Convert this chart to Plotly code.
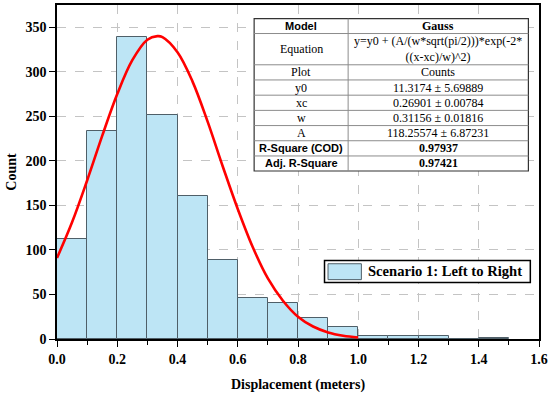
import plotly.graph_objects as go

# histogram bins (left edge, width 0.1) and counts
bin_left = [0.0, 0.1, 0.2, 0.3, 0.4, 0.5, 0.6, 0.7, 0.8, 0.9, 1.0, 1.1, 1.2, 1.3, 1.4]
counts = [112, 234, 339, 251, 160, 89, 46, 40, 24, 13, 3, 3, 3, 0, 1]

# fitted Gauss curve
fit_x = [0.0, 0.05, 0.1, 0.15, 0.2, 0.25, 0.3, 0.333, 0.35, 0.4, 0.45, 0.5,
         0.55, 0.6, 0.65, 0.7, 0.75, 0.8, 0.85, 0.9, 0.95, 1.0]
fit_y = [91, 131, 178, 228, 275, 313, 336, 340, 339, 322, 289, 244,
         194, 146, 103, 68, 43, 25, 14, 7.4, 3.7, 1.7]

# fit-report table
table_labels = ["Model", "Equation", "Plot", "y0", "xc", "w", "A",
                "R-Square (COD)", "Adj. R-Square"]
table_values = ["Gauss", "y=y0 + (A/(w*sqrt(pi/2)))*exp(-2*<br>((x-xc)/w)^2)", "Counts",
                "11.3174 ± 5.69889", "0.26901 ± 0.00784", "0.31156 ± 0.01816",
                "118.25574 ± 6.87231", "0.97937", "0.97421"]
bold_rows = [0, 7, 8]

legend_label = "Scenario 1: Left to Right"

SERIF = "Liberation Serif"
SANS = "Liberation Sans"

fig = go.Figure()

fig.add_trace(
    go.Bar(
        x=bin_left,
        y=counts,
        width=0.1,
        offset=0,
        marker={"color": "#BDE5F5", "line": {"color": "#4f5f68", "width": 1}},
        name=legend_label,
        showlegend=False,
    )
)
fig.add_trace(
    go.Scatter(
        x=fit_x,
        y=fit_y,
        mode="lines",
        line={"color": "#FF0000", "width": 2.6, "shape": "spline"},
        showlegend=False,
    )
)

axis_font = {"family": SERIF, "size": 14, "color": "black", "weight": "bold"}
common_axis = dict(
    tickfont=axis_font,
    ticks="outside",
    ticklen=6,
    tickwidth=1.2,
    tickcolor="black",
    showline=True,
    linecolor="black",
    linewidth=1.5,
    mirror=True,
    showgrid=True,
    gridcolor="#c4c4c4",
    griddash="dash",
    gridwidth=1.2,
    zeroline=False,
)
fig.update_xaxes(
    range=[0, 1.6],
    dtick=0.2,
    tickformat=".1f",
    minor={"dtick": 0.1, "ticks": "outside", "ticklen": 4, "tickwidth": 1.2,
           "tickcolor": "black", "showgrid": False},
    title={"text": "<b>Displacement (meters)</b>", "font": {"family": SERIF, "size": 14}, "standoff": 14},
    **common_axis,
)
fig.update_yaxes(
    range=[0, 375],
    dtick=50,
    title={"text": "<b>Count</b>", "font": {"family": SERIF, "size": 14}, "standoff": 6},
    **common_axis,
)

# table drawn as shapes + annotations (paper coordinates)
tx0, tmid, tx1 = 0.409, 0.604, 0.978
row_edges = [0.959, 0.9146, 0.821, 0.7756, 0.730, 0.6845, 0.639, 0.5936, 0.548, 0.503]
fig.add_shape(type="rect", xref="paper", yref="paper", x0=tx0, x1=tx1,
              y0=row_edges[-1], y1=row_edges[0], fillcolor="white",
              line={"color": "#333333", "width": 1.2}, layer="above")
fig.add_shape(type="line", xref="paper", yref="paper", x0=tmid, x1=tmid,
              y0=row_edges[-1], y1=row_edges[0], line={"color": "#8c8c8c", "width": 1})
for edge in row_edges[1:-1]:
    fig.add_shape(type="line", xref="paper", yref="paper", x0=tx0, x1=tx1,
                  y0=edge, y1=edge, line={"color": "#8c8c8c", "width": 1})

for i, (lab, val) in enumerate(zip(table_labels, table_values)):
    yc = (row_edges[i] + row_edges[i + 1]) / 2
    bold = i in bold_rows
    fig.add_annotation(
        text=f"<b>{lab}</b>" if bold else lab,
        xref="paper", yref="paper", x=(tx0 + tmid) / 2, y=yc,
        xanchor="center", yanchor="middle",
        showarrow=False, borderpad=0,
        font={"family": SANS if bold else SERIF, "size": 11 if bold else 12, "color": "black"},
    )
    fig.add_annotation(
        text=f"<b>{val}</b>" if bold else val,
        xref="paper", yref="paper", x=(tmid + tx1) / 2, y=yc,
        xanchor="center", yanchor="middle",
        showarrow=False, borderpad=0,
        font={"family": SERIF, "size": 12, "color": "black"},
    )

# legend box
fig.add_shape(type="rect", xref="paper", yref="paper", x0=0.555, x1=0.982,
              y0=0.169, y1=0.235, fillcolor="white",
              line={"color": "black", "width": 1.5}, layer="above")
fig.add_shape(type="rect", xref="paper", yref="paper", x0=0.5623, x1=0.6315,
              y0=0.1777, y1=0.2253, fillcolor="#BDE5F5",
              line={"color": "#4f5f68", "width": 1}, layer="above")
fig.add_annotation(
    text=f"<b>{legend_label}</b>",
    xref="paper", yref="paper", x=0.6419, y=0.2024,
    xanchor="left", yanchor="middle", showarrow=False,
    font={"family": SERIF, "size": 14.6, "color": "black"},
)

fig.update_layout(
    width=552,
    height=394,
    margin={"l": 57, "r": 13, "t": 3, "b": 55},
    plot_bgcolor="white",
    paper_bgcolor="white",
    bargap=0,
    font={"family": SERIF, "color": "black"},
)

fig.write_html(
    "out.html",
    config={"displayModeBar": False},
    post_script="document.body.style.margin = '0';",
)
